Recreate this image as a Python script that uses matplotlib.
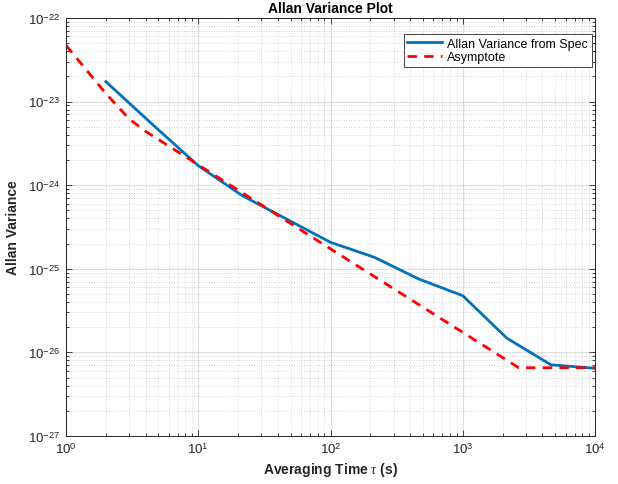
import numpy as np
import matplotlib
matplotlib.use("Agg")
import matplotlib.pyplot as plt
from matplotlib.ticker import FixedLocator, NullFormatter

plt.rcParams["font.family"] = ["Liberation Sans", "DejaVu Sans"]
plt.rcParams["mathtext.fontset"] = "custom"
plt.rcParams["mathtext.rm"] = "Liberation Sans"
plt.rcParams["mathtext.it"] = "Liberation Serif:italic"

# ----------------- data -----------------
tau_spec = [2, 4.64, 10, 21.5, 46.4, 100, 215, 464, 1000, 2154, 4642, 10000]
avar_spec = [1.73e-23, 5.1e-24, 1.71e-24, 7.5e-25, 3.94e-25, 2.07e-25,
             1.37e-25, 7.55e-26, 4.76e-26, 1.48e-26, 7.1e-27, 6.45e-27]

tau_asym = [1, 2, 3, 4, 100, 2650, 10000]
avar_asym = [4.7e-23, 1.25e-23, 6.2e-24, 4.4e-24, 1.73e-25, 6.55e-27, 6.55e-27]

x_decades = [0, 1, 2, 3, 4]
y_decades = [-27, -26, -25, -24, -23, -22]

title = "Allan Variance Plot"
xlabel = r"Averaging Time $\it{\tau}$ (s)"
ylabel = "Allan Variance"
labels = ["Allan Variance from Spec", "Asymptote"]

# ----------------- plot -----------------
dark = "#262626"
fig = plt.figure(figsize=(6.18, 4.85), dpi=100)
ax = fig.add_axes([0.1068, 0.099, 0.856, 0.862])

ax.loglog(tau_spec, avar_spec, color="#0072BD", lw=2.0, label=labels[0])
ax.loglog(tau_asym, avar_asym, color="#FF0000", lw=2.0, ls=(0, (3.4, 2.6)),
          label=labels[1])

ax.set_xlim(1, 1e4)
ax.set_ylim(1e-27, 1e-22)

# only ticks inside the limits
xmaj = [10.0 ** d for d in x_decades]
ymaj = [10.0 ** d for d in y_decades]
xmin = [m * 10.0 ** d for d in x_decades[:-1] for m in range(2, 10)]
ymin = [m * 10.0 ** d for d in y_decades[:-1] for m in range(2, 10)]
ax.set_xticks(xmaj, [rf"$10^{{{d}}}$" for d in x_decades])
ax.set_yticks(ymaj, [rf"$10^{{{d}}}$" for d in y_decades])
ax.xaxis.set_minor_locator(FixedLocator(xmin))
ax.yaxis.set_minor_locator(FixedLocator(ymin))
ax.xaxis.set_minor_formatter(NullFormatter())
ax.yaxis.set_minor_formatter(NullFormatter())

ax.grid(True, which="major", color="#262626", alpha=0.15, lw=0.8, ls="-")
ax.grid(True, which="minor", color="#262626", alpha=0.25, lw=0.6, ls=(0, (1, 2)))
ax.set_axisbelow(True)

ax.tick_params(which="both", direction="in", top=True, right=True,
               colors=dark, labelsize=9.5, width=0.6)
ax.tick_params(which="major", length=4, pad=4)
ax.tick_params(which="minor", length=2)
for s in ax.spines.values():
    s.set_color(dark)
    s.set_linewidth(0.7)

ax.set_title(title, fontsize=10, fontweight="bold", color="black", pad=4)
ax.set_xlabel(xlabel, fontsize=10, fontweight="bold", color=dark, labelpad=3)
ax.set_ylabel(ylabel, fontsize=10, fontweight="bold", color=dark, labelpad=6)

leg = ax.legend(loc="upper right", bbox_to_anchor=(0.994, 0.962),
                fontsize=9, fancybox=False, framealpha=1,
                edgecolor=dark, borderaxespad=0, handlelength=2.8,
                handletextpad=0.4, borderpad=0.3, labelspacing=0.15)
leg.get_frame().set_linewidth(0.6)

fig.savefig("out.png", dpi=100)
